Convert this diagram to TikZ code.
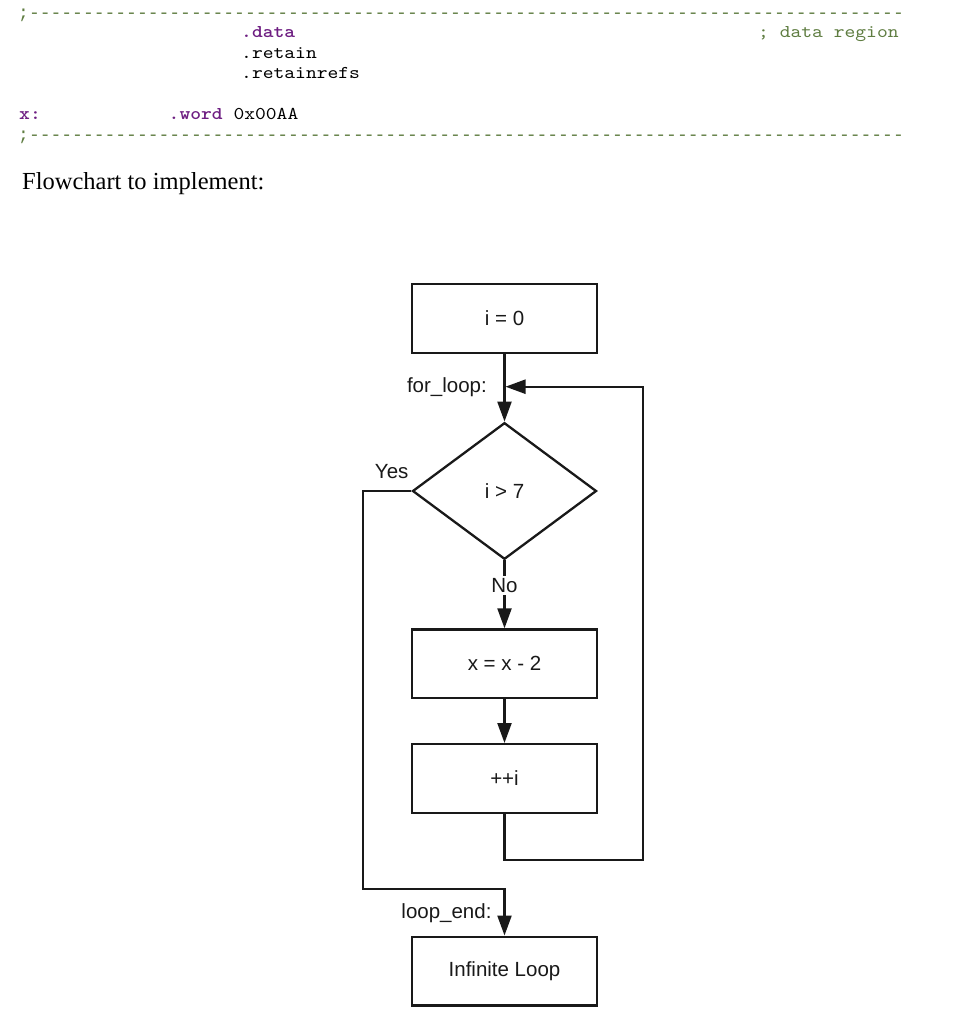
\documentclass[tikz,border=0pt]{standalone}
\usepackage{fontspec}
\setmainfont{Liberation Serif}
\setsansfont{Liberation Sans}
\setmonofont{lmmono10-regular.otf}[FakeStretch=1.143, BoldFont=lmmonolt10-bold.otf, BoldFeatures={FakeStretch=1.143}]
\newfontfamily\rulefont{Liberation Mono}
\usetikzlibrary{shapes.geometric,arrows.meta}
\definecolor{cmt}{RGB}{95,125,65}
\definecolor{kw}{RGB}{110,30,130}
\definecolor{ink}{RGB}{25,25,25}
\tikzset{
  code/.style={anchor=base west, inner sep=0pt, font=\fontsize{18}{20}\selectfont\ttfamily},
  rulerow/.style={anchor=base west, inner sep=0pt, font=\fontsize{18}{20}\selectfont\rulefont, text=cmt},
  box/.style={draw=ink, line width=2.3pt, minimum width=185.6pt, minimum height=68.7pt, inner sep=0pt, font=\fontsize{20.5}{24}\selectfont\sffamily, text=ink},
  dia/.style={draw=ink, diamond, line width=2.3pt, minimum width=184pt, minimum height=136.6pt, inner sep=0pt, font=\fontsize{20.5}{24}\selectfont\sffamily, text=ink},
  lbl/.style={inner sep=0pt, font=\fontsize{20.5}{24}\selectfont\sffamily, text=ink},
  conn/.style={draw=ink, line width=2.3pt},
  arr/.style={conn, -{Triangle[length=20pt,width=14pt]}},
}
\begin{document}
\begin{tikzpicture}[x=1pt,y=-1pt]
\useasboundingbox[fill=white] (0,0) rectangle (977,1024);
% code listing
\node[rulerow] (d1) at (18,18.5) {;---------------------------------------------------------------------------------};
\node[code, text=kw] (dat) at (241,37.3) {\bfseries .data};
\node[code, text=cmt] (cm) at (758,37.3) {; data region};
\node[code] (ret) at (241,59) {.retain};
\node[code] (rr) at (241,78.5) {.retainrefs};
\node[code, text=kw] (xl) at (19,120) {\bfseries x:};
\node[code] (wd) at (168.5,120) {\textcolor{kw}{\bfseries .word} 0x00AA};
\node[rulerow] (d2) at (18,141) {;---------------------------------------------------------------------------------};
\node[anchor=base west, inner sep=0pt, font=\fontsize{24.5}{28}\selectfont] (fc) at (22,190) {Flowchart to implement:};
% flowchart
\node[box] (b1) at (504.5,318.5) {i = 0};
\node[dia] (d) at (504.5,491) {i > 7};
\node[box] (b2) at (504.5,663.8) {x = x - 2};
\node[box] (b3) at (504.5,778.5) {++i};
\node[box] (b4) at (504.5,971) {Infinite Loop};
\coordinate (j) at (505.5,386.7);
\coordinate (lr) at (643.3,860);
\coordinate (yl) at (363.3,889);
\draw[arr] (b1.south) -- (d.north);
\draw[arr] (d.south) -- node[pos=0.367, lbl, fill=white, inner sep=2pt] (no) {No} (b2.north);
\draw[arr] (b2.south) -- (b3.north);
\draw[arr] (b3.south) |- (lr) -- (lr |- j) -- (j);
\draw[arr] (d.west) -| (yl) -| (b4.north);
\node[lbl, anchor=east] (fl) at (487,386.7) {for\_loop:};
\node[lbl] (yes) at (391.7,471.7) {Yes};
\node[lbl, anchor=east] (le) at (491.7,913.3) {loop\_end:};
\end{tikzpicture}
\end{document}
